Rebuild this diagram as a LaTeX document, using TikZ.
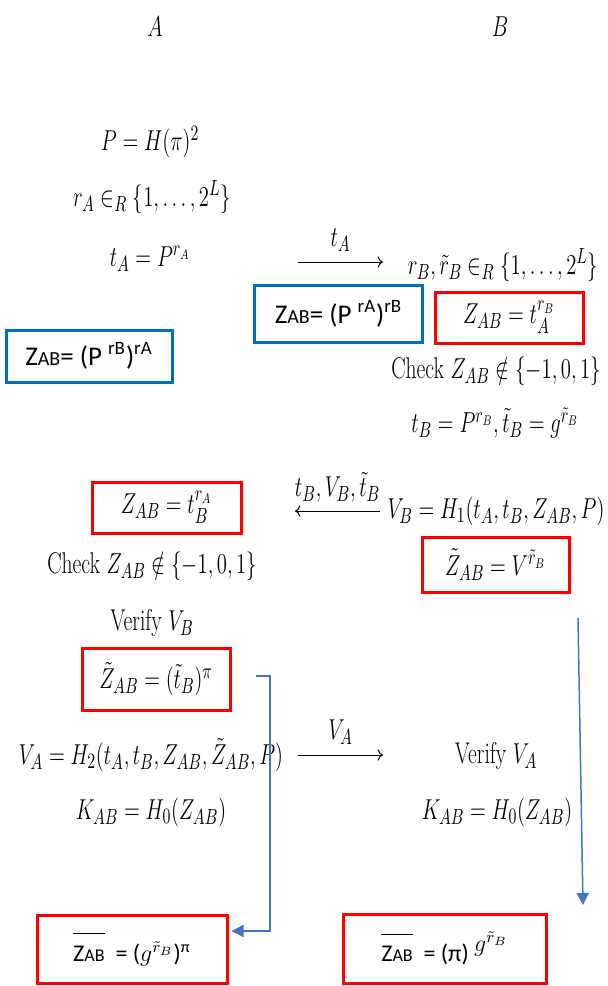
\documentclass[tikz,border=0pt]{standalone}
\usepackage{amsmath,amssymb,graphicx,xcolor}
\usepackage{fontspec}
\newfontfamily\calib{Carlito}
\usepackage{tikz}
\usetikzlibrary{arrows.meta,calc}

\definecolor{boxblue}{HTML}{0070C0}
\definecolor{linkblue}{HTML}{4472C4}
\newcommand{\nar}[1]{\scalebox{0.72}[1]{#1}}
\newcommand{\zab}[1]{Z{\fontsize{#1}{#1}\selectfont AB}}

\begin{document}
\begin{tikzpicture}[x=0.5pt,y=0.5pt,
  lbl/.style={inner sep=1pt,font=\fontsize{15}{18}\selectfont},
  redbox/.style={lbl,draw=red,line width=1.5pt},
  bluebox/.style={draw=boxblue,line width=1.5pt,inner sep=1pt,font=\calib\fontsize{13.5}{16}\selectfont},
  endbox/.style={draw=red,line width=1.5pt,inner sep=1pt,font=\calib\fontsize{12}{14}\selectfont},
  msg/.style={line width=0.5pt,-{Computer Modern Rightarrow}},
  link/.style={draw=linkblue,line width=0.75pt,-{Triangle[length=6pt,width=6pt]}}]
  \useasboundingbox (0,0) rectangle (608,-986);

  % parties
  \node[lbl] (pa) at (155,-27) {\nar{$A$}};
  \node[lbl] (pb) at (500,-27) {\nar{$B$}};

  % setup
  \node[lbl] (pdef) at (150,-142) {\nar{$P=H(\pi)^2$}};
  \node[lbl] (ra) at (152,-197) {\nar{$r_A\in_R\{1,\ldots,2^L\}$}};
  \node[lbl] (ta) at (150,-259) {\nar{$t_A=P^{r_A}$}};
  \node[lbl] (rb) at (503,-265) {\nar{$r_B,\tilde r_B\in_R\{1,\ldots,2^L\}$}};
  \coordinate (m1s) at (298,-262);
  \coordinate (m1e) at (383,-262);
  \draw[msg] (m1s) -- (m1e) node[lbl,midway,above=4pt] {\nar{$t_A$}};

  \node[bluebox,minimum width=84pt,minimum height=28.5pt] (zb1) at (338.5,-314)
    {\zab{10}= (P \textsuperscript{rA})\textsuperscript{rB}};
  \node[redbox,minimum width=74pt,minimum height=25.5pt] (zr1) at (509,-317.5)
    {\nar{$Z_{AB}=t_A^{r_B}$}};
  \node[bluebox,minimum width=83pt,minimum height=26pt] (zb2) at (89,-356)
    {\zab{10}= (P \textsuperscript{rB})\textsuperscript{rA}};

  % B answers
  \node[lbl] (chkb) at (496,-371) {\nar{Check $Z_{AB}\notin\{-1,0,1\}$}};
  \node[lbl] (tb) at (495,-423) {\nar{$t_B=P^{r_B},\tilde t_B=g^{\tilde r_B}$}};
  \node[lbl] (vb) at (496,-511) {\nar{$V_B=H_1(t_A,t_B,Z_{AB},P)$}};
  \coordinate (m2s) at (380,-511);
  \coordinate (m2e) at (295,-511);
  \draw[msg] (m2s) -- (m2e) node[lbl,midway,above=3pt] {\nar{$t_B,V_B,\tilde t_B$}};
  \node[redbox,minimum width=73.5pt,minimum height=27.5pt] (zr2) at (495.5,-564.5)
    {\nar{$\tilde Z_{AB}=V^{\tilde r_B}$}};

  % A checks
  \node[redbox,minimum width=74.5pt,minimum height=25.5pt] (zr3) at (166.5,-507.5)
    {\nar{$Z_{AB}=t_B^{r_A}$}};
  \node[lbl] (chka) at (152,-566) {\nar{Check $Z_{AB}\notin\{-1,0,1\}$}};
  \node[lbl] (vfb) at (152,-623) {\nar{Verify $V_B$}};
  \node[redbox,minimum width=74pt,minimum height=31pt] (zr4) at (156,-679)
    {\nar{$\tilde Z_{AB}=(\tilde t_B)^\pi$}};
  \node[lbl] (va) at (151,-755) {\nar{$V_A=H_2(t_A,t_B,Z_{AB},\tilde Z_{AB},P)$}};
  \coordinate (m3s) at (298,-755);
  \coordinate (m3e) at (383,-755);
  \draw[msg] (m3s) -- (m3e) node[lbl,midway,above=4pt] {\nar{$V_A$}};
  \node[lbl] (vfa) at (496,-756) {\nar{Verify $V_A$}};
  \node[lbl] (ka) at (151,-812) {\nar{$K_{AB}=H_0(Z_{AB})$}};
  \node[lbl] (kb) at (497,-812) {\nar{$K_{AB}=H_0(Z_{AB})$}};

  % results
  \node[endbox,minimum width=95pt,minimum height=34pt] (zr5) at (132,-949)
    {$\overline{\hbox{\rule{0pt}{12pt}\zab{9}}}$\ \ = ($g^{\tilde r_B}$)\textsuperscript{π}};
  \node[endbox,minimum width=101.5pt,minimum height=34.5pt] (zr6) at (444.5,-948.5)
    {$\overline{\hbox{\rule{0pt}{12pt}\zab{9}}}$\ \ = (π) \raisebox{5pt}{$g^{\tilde r_B}$}};

  \coordinate (l1s) at (256,-676);
  \draw[link] (l1s) -- ++(14,0) |- ($(zr5.east)+(3,18)$);
  \coordinate (l2s) at (578,-618);
  \coordinate (l2e) at (583,-905);
  \draw[link] (l2s) -- (l2e);
\end{tikzpicture}
\end{document}
